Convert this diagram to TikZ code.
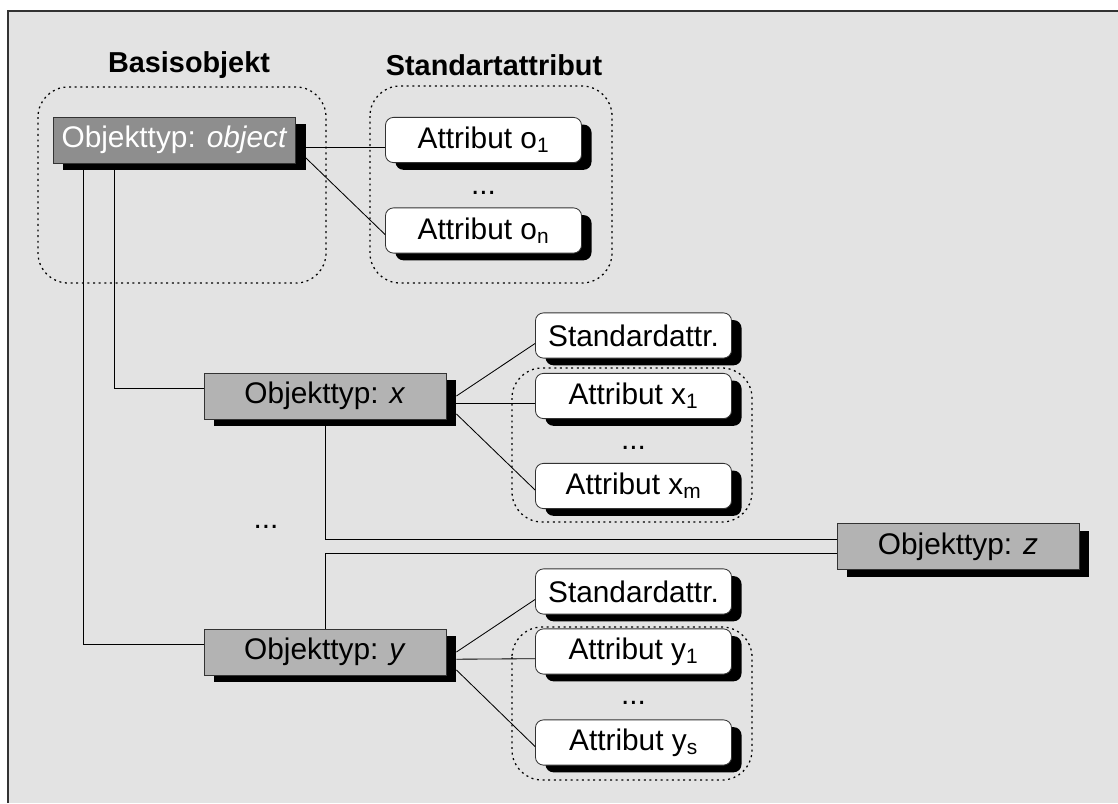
\documentclass[tikz,border=0pt]{standalone}
\usepackage{fontspec}
\setmainfont{Liberation Sans}
\usetikzlibrary{shadows}
\definecolor{bggray}{HTML}{E3E3E3}
\definecolor{basegray}{HTML}{8E8E8E}
\definecolor{typegray}{HTML}{B3B3B3}
\definecolor{edgegray}{HTML}{333333}
\begin{document}
\begin{tikzpicture}[x=0.025cm, y=-0.025cm, line width=0.6pt,
  every node/.style={font=\fontsize{21.2}{25}\selectfont},
  boxshadow/.style={drop shadow={shadow xshift=0.25cm, shadow yshift=-0.18cm, fill=black, opacity=1}},
  typebox/.style={shape=rectangle, draw=edgegray, fill=typegray, boxshadow, minimum height=1.15cm, minimum width=6.05cm, inner sep=0pt},
  attrbox/.style={shape=rectangle, rounded corners=0.2cm, draw=edgegray, fill=white, boxshadow, minimum height=1.13cm, minimum width=4.9cm, inner sep=0pt},
  groupbox/.style={draw=black, rounded corners=0.75cm, dash pattern=on 1.4pt off 2.6pt, line width=0.9pt},
  title/.style={font=\fontsize{20.5}{24}\selectfont\bfseries}]
%%%%%%%%%%%%%%%%%%%%%%%%%%%%%%%%%%%%%%%%%%% HELP LINES
%\draw[help lines, step=100] (0,0) grid (1118,803);
\useasboundingbox (0,0) rectangle (1118,803);

%%%%%%%%%%%%%%%%%%%%%%%%%%%%%%%%%%%%%%%%%%% frame
\fill[bggray] (8,11) rectangle (1118,803);
\draw[line width=0.9pt, edgegray] (8,803) -- (8,11) -- (1118,11);

%%%%% groups
\draw[groupbox] (38,87) rectangle (326,283);
\draw[groupbox] (370,86) rectangle (612,283);
\draw[groupbox] (512,368) rectangle (752,522);
\draw[groupbox] (512,627) rectangle (752,780);
\node[title](basis) at (189,65) {Basisobjekt};
\node[title](stdattr) at (494,65) {Standartattribut};

%%%%% connectors (below the boxes)
\coordinate (objA) at (83,163);
\coordinate (objB) at (114,163);
\draw (objA) |- (204,644) coordinate (yin);
\draw (objB) |- (204,388) coordinate (xin);
\draw (325,419) coordinate (xout) |- (837,539) coordinate (zin);
\draw (837,553) coordinate (zout) -| (325,629) coordinate (yout);

%%%%%%%%%%%%%%%%%%%%%%%%%%%%%%%%%%%%%%%%%%% elements
\node[typebox, fill=basegray, text=white](obj) at (174.5,140) {Objekttyp: \textit{object}};
\node[attrbox](o1) at (483.5,140) {Attribut o\textsubscript{1}};
\node(odots) at (483.5,193) {...};
\node[attrbox](on) at (483.5,230.5) {Attribut o\textsubscript{n}};

\node[typebox](ox) at (325,396) {Objekttyp: \textit{x}};
\node[attrbox](sx) at (633.5,335.5) {Standardattr.};
\node[attrbox](x1) at (633.5,396) {Attribut x\textsubscript{1}};
\node(xdots) at (633.5,448) {...};
\node[attrbox](xm) at (633.5,486) {Attribut x\textsubscript{m}};

\node(typedots) at (266,527) {...};
\node[typebox](oz) at (958,546.5) {Objekttyp: \textit{z}};

\node[typebox](oy) at (325,652) {Objekttyp: \textit{y}};
\node[attrbox](sy) at (633.5,591.5) {Standardattr.};
\node[attrbox](y1) at (633.5,651.5) {Attribut y\textsubscript{1}};
\node(ydots) at (633.5,703) {...};
\node[attrbox](ys) at (633.5,742.5) {Attribut y\textsubscript{s}};

%%%%% links to attributes
\draw ([xshift=0.25cm, yshift=-0.18cm]obj.east) -- ([yshift=-0.18cm]o1.west);
\draw ([xshift=0.25cm, yshift=-0.45cm]obj.east) -- ([yshift=-0.1cm]on.west);
\foreach \t in {x,y}{
  \draw ([xshift=0.25cm]o\t.east) -- ([yshift=-0.2cm]s\t.west);
  \draw ([xshift=0.25cm, yshift=-0.18cm]o\t.east) -- ([yshift=-0.18cm]\t1.west);
}
\draw ([xshift=0.25cm, yshift=-0.45cm]ox.east) -- ([yshift=-0.1cm]xm.west);
\draw ([xshift=0.25cm, yshift=-0.45cm]oy.east) -- ([yshift=-0.1cm]ys.west);
\end{tikzpicture}
\end{document}
